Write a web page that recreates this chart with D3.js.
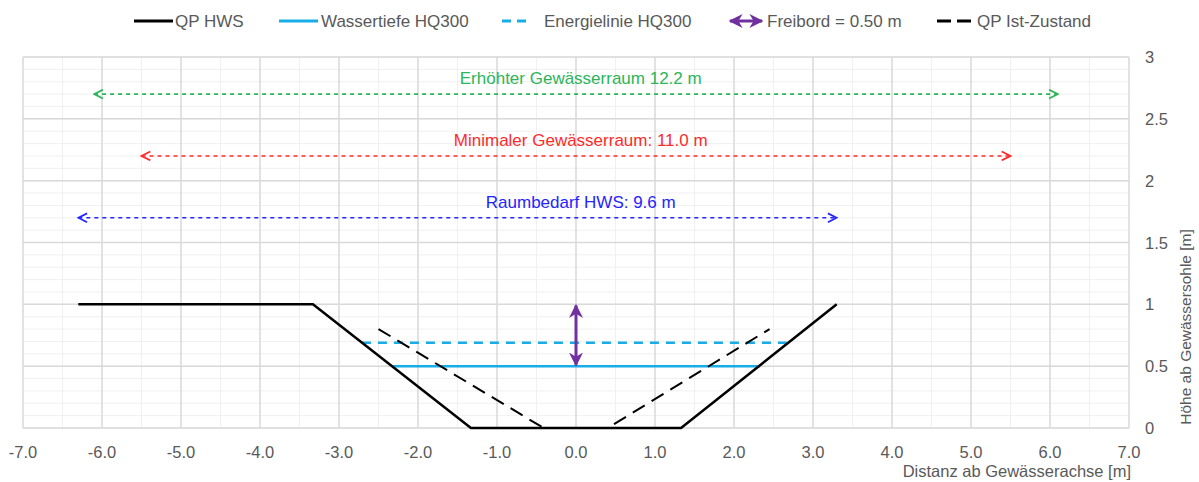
<!DOCTYPE html>
<html>
<head>
<meta charset="utf-8">
<script src="https://cdn.jsdelivr.net/npm/d3@7"></script>
<style>
  body { margin: 0; background: #fff; }
  text { font-family: "Liberation Sans", Arial, sans-serif; }
</style>
</head>
<body>
<div id="viz-container"></div>
<script>
// data
let qpHws = [[-6.3, 1], [-3.33, 1], [-1.33, 0], [1.33, 0], [3.3, 1]];
let qpIst = [[-2.5, 0.8], [-0.41, 0], [0.4, 0], [2.45, 0.8]];
let wasserX = [-2.33, 2.33], wasserY = 0.5;
let energieX = [-2.71, 2.71], energieY = 0.69;
let freibord = {x: 0, y0: 0.5, y1: 1.0};
let dims = [
  {label: "Erhöhter Gewässerraum 12.2 m", x0: -6.1, x1: 6.1, y: 2.7, color: "#2cb55a"},
  {label: "Minimaler Gewässerraum: 11.0 m", x0: -5.5, x1: 5.5, y: 2.2, color: "#ff2a2a"},
  {label: "Raumbedarf HWS: 9.6 m", x0: -6.3, x1: 3.3, y: 1.7, color: "#2424ff"}
];
let xTicks = d3.range(-7, 7.01, 1);
let yTicks = [0, 0.5, 1, 1.5, 2, 2.5, 3];

let W = 1199, H = 482;
let pLeft = 23, pRight = 1129, pTop = 57, pBottom = 428;
let fs = 16.5;

let svg = d3.select("#viz-container").append("svg")
  .attr("width", W).attr("height", H);

let x = d3.scaleLinear().domain([-7, 7]).range([pLeft, pRight]);
let y = d3.scaleLinear().domain([0, 3]).range([pBottom, pTop]);

// grid
let g = svg.append("g");
g.selectAll(".ymin").data(d3.range(0, 3.001, 0.1)).enter().append("line")
  .attr("x1", pLeft).attr("x2", pRight)
  .attr("y1", d => y(d)).attr("y2", d => y(d))
  .attr("stroke", "#f0f0f0").attr("stroke-width", 1);
g.selectAll(".xmin").data(d3.range(-6.5, 7, 1)).enter().append("line")
  .attr("x1", d => x(d)).attr("x2", d => x(d))
  .attr("y1", pTop).attr("y2", pBottom)
  .attr("stroke", "#f0f0f0").attr("stroke-width", 1);
g.selectAll(".ymaj").data(yTicks).enter().append("line")
  .attr("x1", pLeft).attr("x2", pRight)
  .attr("y1", d => y(d)).attr("y2", d => y(d))
  .attr("stroke", "#d9d9d9").attr("stroke-width", 1.5);
g.selectAll(".xmaj").data(xTicks).enter().append("line")
  .attr("x1", d => x(d)).attr("x2", d => x(d))
  .attr("y1", pTop).attr("y2", pBottom)
  .attr("stroke", "#d9d9d9").attr("stroke-width", 1.5);

// tick labels
svg.selectAll(".xt").data(xTicks).enter().append("text")
  .attr("x", d => x(d)).attr("y", 458)
  .attr("text-anchor", "middle").attr("font-size", fs).attr("fill", "#595959")
  .text(d => d3.format(".1f")(d).replace("\u2212", "-"));
svg.selectAll(".yt").data(yTicks).enter().append("text")
  .attr("x", 1145).attr("y", d => y(d) + 6)
  .attr("font-size", fs).attr("fill", "#595959")
  .text(d => d);

svg.append("text").attr("x", pRight + 2).attr("y", 477)
  .attr("text-anchor", "end").attr("font-size", fs).attr("fill", "#595959")
  .text("Distanz ab Gewässerachse [m]");
svg.append("text")
  .attr("transform", "translate(1191," + 327 + ") rotate(-90)")
  .attr("text-anchor", "middle").attr("font-size", 15.5).attr("fill", "#595959")
  .text("Höhe ab Gewässersohle [m]");

// markers
let defs = svg.append("defs");
function chevron(id, color, size) {
  defs.append("marker").attr("id", id)
    .attr("viewBox", "0 0 10 10").attr("refX", 9).attr("refY", 5)
    .attr("markerWidth", size).attr("markerHeight", size)
    .attr("markerUnits", "userSpaceOnUse")
    .attr("orient", "auto-start-reverse")
    .append("path").attr("d", "M1,1 L9,5 L1,9")
    .attr("fill", "none").attr("stroke", color).attr("stroke-width", 1.6);
}
dims.forEach((d, i) => chevron("dm" + i, d.color, 11));
defs.append("marker").attr("id", "fb")
  .attr("viewBox", "0 0 10 10").attr("refX", 9).attr("refY", 5)
  .attr("markerWidth", 14).attr("markerHeight", 14)
  .attr("markerUnits", "userSpaceOnUse")
  .attr("orient", "auto-start-reverse")
  .append("path").attr("d", "M0,0 L10,5 L0,10 L3,5 Z")
  .attr("fill", "#7030a0");

// dimension arrows
dims.forEach((d, i) => {
  svg.append("line")
    .attr("x1", x(d.x0)).attr("x2", x(d.x1))
    .attr("y1", y(d.y)).attr("y2", y(d.y))
    .attr("stroke", d.color).attr("stroke-width", 1.6)
    .attr("stroke-dasharray", "4,4")
    .attr("marker-start", "url(#dm" + i + ")")
    .attr("marker-end", "url(#dm" + i + ")");
  svg.append("text")
    .attr("x", x(0.06)).attr("y", y(d.y) - 10)
    .attr("text-anchor", "middle").attr("font-size", 17).attr("fill", d.color)
    .text(d.label);
});

let line = d3.line().x(d => x(d[0])).y(d => y(d[1]));

// water lines
svg.append("line")
  .attr("x1", x(energieX[0])).attr("x2", x(energieX[1]))
  .attr("y1", y(energieY)).attr("y2", y(energieY))
  .attr("stroke", "#17aee8").attr("stroke-width", 2.5)
  .attr("stroke-dasharray", "9,7");
svg.append("line")
  .attr("x1", x(wasserX[0])).attr("x2", x(wasserX[1]))
  .attr("y1", y(wasserY)).attr("y2", y(wasserY))
  .attr("stroke", "#17aee8").attr("stroke-width", 2.5);

// profiles
svg.append("path").datum(qpIst).attr("d", line)
  .attr("fill", "none").attr("stroke", "#000").attr("stroke-width", 2)
  .attr("stroke-dasharray", "14,8");
svg.append("path").datum(qpHws).attr("d", line)
  .attr("fill", "none").attr("stroke", "#000").attr("stroke-width", 2.5);

// freibord
svg.append("line")
  .attr("x1", x(freibord.x)).attr("x2", x(freibord.x))
  .attr("y1", y(freibord.y0) - 1).attr("y2", y(freibord.y1) + 1)
  .attr("stroke", "#7030a0").attr("stroke-width", 3)
  .attr("marker-start", "url(#fb)").attr("marker-end", "url(#fb)");

// legend
let lg = svg.append("g").attr("font-size", 17).attr("fill", "#595959");
let ly = 21;
function legText(xp, t) {
  lg.append("text").attr("x", xp).attr("y", ly + 6).attr("fill", "#595959").text(t);
}
lg.append("line").attr("x1", 134).attr("x2", 173).attr("y1", ly).attr("y2", ly)
  .attr("stroke", "#000").attr("stroke-width", 3);
legText(175, "QP HWS");
lg.append("line").attr("x1", 279).attr("x2", 318).attr("y1", ly).attr("y2", ly)
  .attr("stroke", "#17aee8").attr("stroke-width", 3);
legText(321, "Wassertiefe HQ300");
lg.append("line").attr("x1", 502).attr("x2", 530).attr("y1", ly).attr("y2", ly)
  .attr("stroke", "#17aee8").attr("stroke-width", 3).attr("stroke-dasharray", "9,6");
legText(544, "Energielinie HQ300");
lg.append("line").attr("x1", 730).attr("x2", 762).attr("y1", ly).attr("y2", ly)
  .attr("stroke", "#7030a0").attr("stroke-width", 3)
  .attr("marker-start", "url(#fb)").attr("marker-end", "url(#fb)");
legText(767, "Freibord = 0.50 m");
lg.append("line").attr("x1", 937).attr("x2", 975).attr("y1", ly).attr("y2", ly)
  .attr("stroke", "#000").attr("stroke-width", 3).attr("stroke-dasharray", "14,6");
legText(977, "QP Ist-Zustand");
</script>
</body>
</html>
